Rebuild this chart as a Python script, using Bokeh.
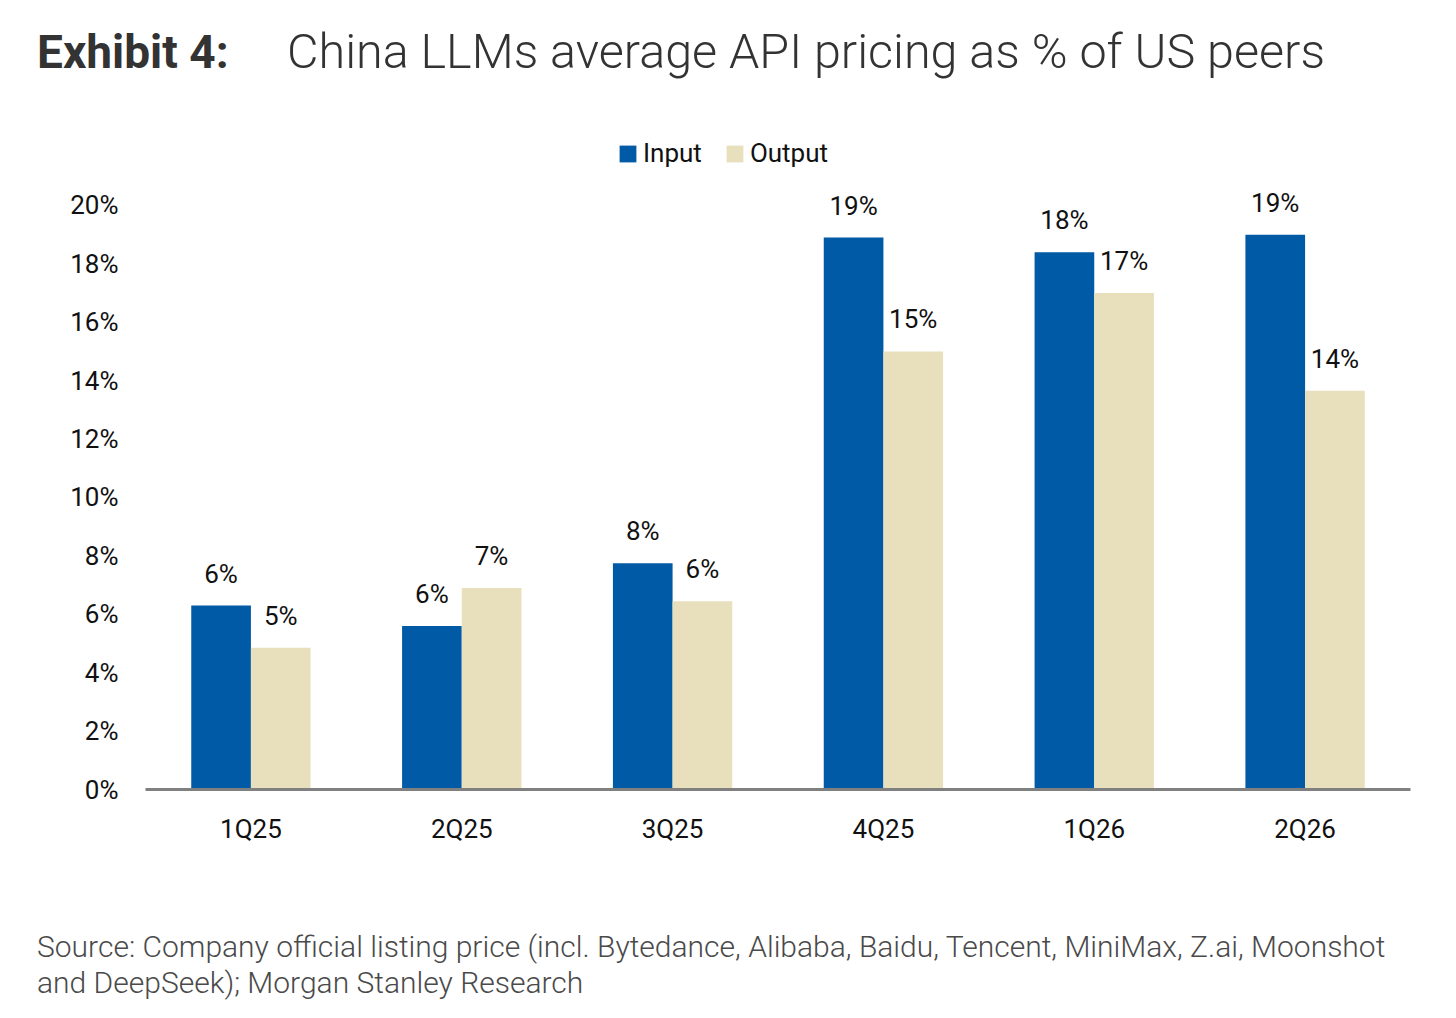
from bokeh.plotting import figure
from bokeh.layouts import column
from bokeh.models import (ColumnDataSource, FactorRange, FixedTicker, PrintfTickFormatter,
                          Legend, LegendItem, Div)
from bokeh.transform import dodge
from bokeh.core.properties import value
from bokeh.embed import file_html
from bokeh.resources import INLINE

quarters = ["1Q25", "2Q25", "3Q25", "4Q25", "1Q26", "2Q26"]
input_pct = [6.3, 5.6, 7.75, 18.9, 18.4, 19.0]
output_pct = [4.85, 6.9, 6.45, 15.0, 17.0, 13.65]
y_ticks = [0, 2, 4, 6, 8, 10, 12, 14, 16, 18, 20]

title_bold = "Exhibit 4:"
title_text = "China LLMs average API pricing as % of US peers"
source_lines = [
    "Source: Company official listing price (incl. Bytedance, Alibaba, Baidu, Tencent, MiniMax, Z.ai, Moonshot",
    "and DeepSeek); Morgan Stanley Research",
]

BLUE = "#005AA5"
BEIGE = "#E8DFBD"
FONT = "Roboto"
W = 1448

src = ColumnDataSource(data=dict(
    q=quarters,
    inp=input_pct,
    out=output_pct,
    inp_lbl=[f"{v:.0f}%" for v in input_pct],
    out_lbl=[f"{v:.0f}%" for v in output_pct],
))

title_div = Div(
    text=(f'<span style="display:inline-block;width:250px;font-weight:700;font-size:46px">{title_bold}</span>'
          f'<span style="font-weight:300">{title_text}</span>'),
    width=W, height=100, margin=(0, 0, 0, 0),
    styles={"font-family": FONT, "font-size": "48.5px", "color": "#333333",
            "padding-left": "37px", "padding-top": "23px", "white-space": "nowrap",
            "line-height": "normal"},
)

p = figure(
    x_range=FactorRange(*quarters),
    y_range=(0, 22.6),
    width=W, height=800,
    output_backend="svg", toolbar_location=None,
    min_border_left=145, min_border_right=38,
    min_border_top=29, min_border_bottom=111,
    margin=(0, 0, 0, 0),
)
p.outline_line_color = None
p.xgrid.grid_line_color = None
p.ygrid.grid_line_color = None
p.background_fill_color = "white"

bw = 0.283
r_in = p.vbar(x=dodge("q", -bw / 2, range=p.x_range), top="inp", width=bw, source=src,
              fill_color=BLUE, line_color=None)
r_out = p.vbar(x=dodge("q", bw / 2, range=p.x_range), top="out", width=bw, source=src,
               fill_color=BEIGE, line_color=None)

# value labels above bars
p.text(x=dodge("q", -bw / 2, range=p.x_range), y="inp", text="inp_lbl", source=src,
       text_align="center", text_baseline="alphabetic", y_offset=-32,
       text_font=value(FONT), text_font_size="26px", text_color="#111111")
p.text(x=dodge("q", bw / 2, range=p.x_range), y="out", text="out_lbl", source=src,
       text_align="center", text_baseline="alphabetic", y_offset=-32,
       text_font=value(FONT), text_font_size="26px", text_color="#111111")

# axes
p.xaxis.axis_line_color = "#808080"
p.xaxis.axis_line_width = 3
p.xaxis.major_tick_line_color = None
p.xaxis.minor_tick_line_color = None
p.xaxis.major_label_standoff = 18
p.xaxis.major_label_text_font = FONT
p.xaxis.major_label_text_font_size = "26px"
p.xaxis.major_label_text_color = "#111111"

p.yaxis.axis_line_color = None
p.yaxis.major_tick_line_color = None
p.yaxis.minor_tick_line_color = None
p.yaxis.ticker = FixedTicker(ticks=y_ticks)
p.yaxis.formatter = PrintfTickFormatter(format="%d%%")
p.yaxis.major_label_standoff = 21
p.yaxis.major_label_text_font = FONT
p.yaxis.major_label_text_font_size = "26px"
p.yaxis.major_label_text_color = "#111111"

legend = Legend(items=[LegendItem(label="Input", renderers=[r_in]),
                       LegendItem(label="Output", renderers=[r_out])],
                location=(472, 621), orientation="horizontal",
                border_line_color=None, background_fill_alpha=0,
                label_text_font=FONT, label_text_font_size="26px", label_text_color="#111111",
                glyph_width=21, glyph_height=21, spacing=22, margin=0, padding=4,
                label_standoff=5)
p.add_layout(legend)

source_div = Div(
    text="<br>".join(source_lines),
    width=W, height=110, margin=(0, 0, 0, 0),
    styles={"font-family": FONT, "font-size": "30px", "font-weight": "300",
            "color": "#4a4a4a", "padding-left": "37px", "padding-top": "29px",
            "line-height": "36px", "white-space": "nowrap"},
)

layout = column(title_div, p, source_div, spacing=0)
open("out.html", "w").write(file_html(layout, INLINE))
